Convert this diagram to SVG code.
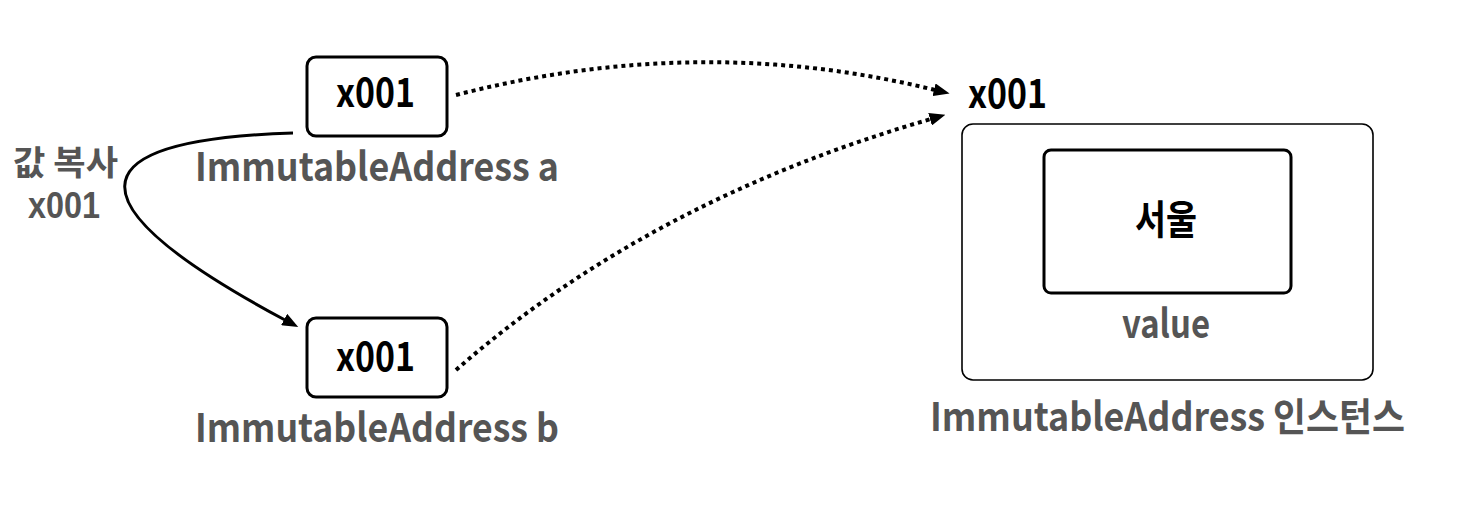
<svg xmlns="http://www.w3.org/2000/svg" width="1462" height="529" viewBox="0 0 1462 529">
  <style>
    .box { fill: #ffffff; stroke: #000000; stroke-width: 3; }
    .outer { fill: #ffffff; stroke: #000000; stroke-width: 1.6; }
    .t { font-family: "Noto Sans CJK KR", "Noto Sans", sans-serif; font-weight: 700; }
    .blk { fill: #000000; font-size: 40px; }
    .gry { fill: #555555; font-size: 39px; }
    .dot { fill: none; stroke: #000000; stroke-width: 4; stroke-dasharray: 4 4; }
    .solid { fill: none; stroke: #000000; stroke-width: 3; }
  </style>
  <defs>
    <marker id="ah" markerUnits="userSpaceOnUse" markerWidth="16" markerHeight="13" viewBox="0 0 16 13" refX="1" refY="6.5" orient="auto">
      <path d="M0,0 L16,6.5 L0,13 z" fill="#000000"/>
    </marker>
  </defs>
  <rect width="1462" height="529" fill="#ffffff"/>

  <g id="connectors">
    <path class="solid" d="M293,133 C70,140 70,205 285,320" marker-end="url(#ah)"/>
    <path class="dot" d="M456,95 Q700,32 935,90" marker-end="url(#ah)"/>
    <path class="dot" d="M456,370 Q650,200 931,119" marker-end="url(#ah)"/>
  </g>

  <g id="node-a">
    <rect class="box" x="307" y="57" width="140" height="79" rx="9"/>
    <text class="t blk" x="336" y="107" textLength="79" lengthAdjust="spacingAndGlyphs">x001</text>
    <text class="t gry" x="195" y="181" textLength="364" lengthAdjust="spacingAndGlyphs">ImmutableAddress a</text>
  </g>

  <g id="node-b">
    <rect class="box" x="307" y="318" width="140" height="79" rx="9"/>
    <text class="t blk" x="336" y="371" textLength="79" lengthAdjust="spacingAndGlyphs">x001</text>
    <text class="t gry" x="195" y="442" textLength="364" lengthAdjust="spacingAndGlyphs">ImmutableAddress b</text>
  </g>

  <g id="copy-label">
    <text class="t gry" style="font-size:34px" x="13" y="175" textLength="105" lengthAdjust="spacingAndGlyphs">값 복사</text>
    <text fill="#555555" font-family="Liberation Sans, Arial, sans-serif" font-weight="700" font-size="36" x="28" y="218" textLength="72" lengthAdjust="spacingAndGlyphs">x001</text>
  </g>

  <g id="instance">
    <text class="t blk" x="968" y="108" textLength="79" lengthAdjust="spacingAndGlyphs">x001</text>
    <rect class="outer" x="962" y="124" width="411" height="256" rx="11"/>
    <g id="value">
      <rect class="box" x="1044" y="150" width="247" height="143" rx="7"/>
      <text class="t blk" x="1135" y="234" textLength="62" lengthAdjust="spacingAndGlyphs">서울</text>
      <text class="t gry" x="1122" y="338" textLength="88" lengthAdjust="spacingAndGlyphs">value</text>
    </g>
    <text class="t gry" x="930" y="431" textLength="475" lengthAdjust="spacingAndGlyphs">ImmutableAddress 인스턴스</text>
  </g>
</svg>
